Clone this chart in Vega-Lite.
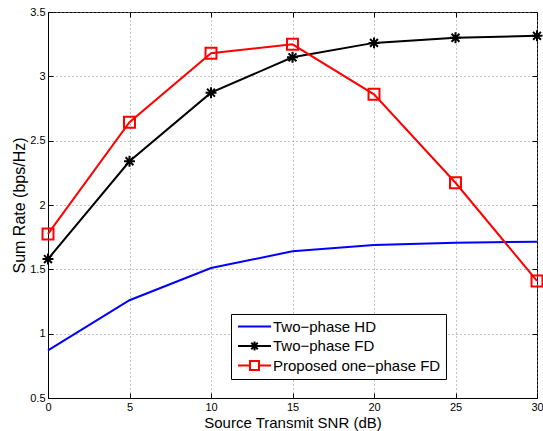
{
  "$schema": "https://vega.github.io/schema/vega-lite/v6.json",
  "width": 489,
  "height": 386,
  "autosize": {"type": "none"},
  "padding": {"left": 48, "top": 12, "right": 6, "bottom": 33},
  "background": "white",
  "config": {
    "font": "Liberation Sans",
    "view": {"stroke": "black", "strokeWidth": 1},
    "axis": {
      "domainColor": "black",
      "tickColor": "black",
      "labelColor": "black",
      "titleColor": "black",
      "labelFont": "Liberation Sans",
      "titleFont": "Liberation Sans",
      "labelFontSize": 11,
      "titleFontSize": 15,
      "titleFontWeight": "normal",
      "labelFlush": false,
      "labelOverlap": false
    },
    "legend": {
      "labelFont": "Liberation Sans",
      "labelFontSize": 15,
      "labelColor": "black",
      "labelLimit": 0
    }
  },
  "data": {
    "values": [
      {"snr": 0, "series": "Two−phase HD", "rate": 0.87},
      {"snr": 5, "series": "Two−phase HD", "rate": 1.26},
      {"snr": 10, "series": "Two−phase HD", "rate": 1.51},
      {"snr": 15, "series": "Two−phase HD", "rate": 1.64},
      {"snr": 20, "series": "Two−phase HD", "rate": 1.69},
      {"snr": 25, "series": "Two−phase HD", "rate": 1.707},
      {"snr": 30, "series": "Two−phase HD", "rate": 1.715},
      {"snr": 0, "series": "Two−phase FD", "rate": 1.58},
      {"snr": 5, "series": "Two−phase FD", "rate": 2.34},
      {"snr": 10, "series": "Two−phase FD", "rate": 2.873},
      {"snr": 15, "series": "Two−phase FD", "rate": 3.148},
      {"snr": 20, "series": "Two−phase FD", "rate": 3.26},
      {"snr": 25, "series": "Two−phase FD", "rate": 3.30},
      {"snr": 30, "series": "Two−phase FD", "rate": 3.315},
      {"snr": 0, "series": "Proposed one−phase FD", "rate": 1.775},
      {"snr": 5, "series": "Proposed one−phase FD", "rate": 2.643},
      {"snr": 10, "series": "Proposed one−phase FD", "rate": 3.18},
      {"snr": 15, "series": "Proposed one−phase FD", "rate": 3.249},
      {"snr": 20, "series": "Proposed one−phase FD", "rate": 2.86},
      {"snr": 25, "series": "Proposed one−phase FD", "rate": 2.173},
      {"snr": 30, "series": "Proposed one−phase FD", "rate": 1.41}
    ]
  },
  "layer": [
    {
      "mark": {"type": "line", "strokeWidth": 2, "clip": false},
      "encoding": {
        "x": {
          "field": "snr", "type": "quantitative",
          "scale": {"domain": [0, 30], "nice": false, "zero": false},
          "axis": {
            "title": "Source Transmit SNR (dB)",
            "values": [0, 5, 10, 15, 20, 25, 30],
            "grid": true, "gridColor": "#888", "gridDash": [1, 3], "gridWidth": 1,
            "tickSize": -5, "labelPadding": 8, "titlePadding": 3
          }
        },
        "y": {
          "field": "rate", "type": "quantitative",
          "scale": {"domain": [0.5, 3.5], "nice": false, "zero": false},
          "axis": {
            "title": "Sum Rate (bps/Hz)",
            "titleFontSize": 16,
            "values": [0.5, 1, 1.5, 2, 2.5, 3, 3.5],
            "labelExpr": "'' + datum.value",
            "grid": true, "gridColor": "#888", "gridDash": [1, 3], "gridWidth": 1,
            "tickSize": -5, "labelPadding": 8, "titlePadding": 2
          }
        },
        "color": {
          "field": "series", "type": "nominal",
          "scale": {"domain": ["Two−phase HD", "Two−phase FD", "Proposed one−phase FD"], "range": ["#0000ff", "#000000", "#ff0000"]},
          "legend": null
        }
      }
    },
    {
      "transform": [{"filter": "datum.series != 'Two−phase HD'"}],
      "mark": {"type": "point", "filled": false, "strokeWidth": 2, "size": 120, "opacity": 1, "clip": false},
      "encoding": {
        "x": {
          "field": "snr", "type": "quantitative",
          "scale": {"domain": [0, 30], "nice": false, "zero": false},
          "axis": {"orient": "top", "values": [0, 5, 10, 15, 20, 25, 30], "labels": false, "domain": false, "grid": false, "tickSize": -5, "title": null}
        },
        "y": {
          "field": "rate", "type": "quantitative",
          "scale": {"domain": [0.5, 3.5], "nice": false, "zero": false},
          "axis": {"orient": "right", "values": [0.5, 1, 1.5, 2, 2.5, 3, 3.5], "labels": false, "domain": false, "grid": false, "tickSize": -5, "title": null}
        },
        "color": {
          "field": "series", "type": "nominal",
          "scale": {"domain": ["Two−phase HD", "Two−phase FD", "Proposed one−phase FD"], "range": ["#0000ff", "#000000", "#ff0000"]},
          "legend": null
        },
        "shape": {
          "field": "series", "type": "nominal",
          "scale": {"domain": ["Two−phase FD", "Proposed one−phase FD"], "range": ["M-1,0H1M0,-1V1M-0.72,-0.72L0.72,0.72M-0.72,0.72L0.72,-0.72", "square"]},
          "legend": null
        }
      }
    },
    {
      "transform": [{"filter": "false"}],
      "mark": {"type": "point", "filled": false, "strokeWidth": 2, "opacity": 1},
      "encoding": {
        "color": {
          "field": "series", "type": "nominal",
          "scale": {"domain": ["Two−phase HD", "Two−phase FD", "Proposed one−phase FD"], "range": ["#0000ff", "#000000", "#ff0000"]},
          "legend": {
            "title": null, "orient": "none", "legendX": 183, "legendY": 302,
            "strokeColor": "black", "fillColor": "white", "padding": 5,
            "cornerRadius": 0, "rowPadding": 2.5, "symbolSize": 100,
            "symbolOffset": 11, "labelOffset": 11, "symbolStrokeWidth": 2, "labelLimit": 0
          }
        },
        "shape": {
          "field": "series", "type": "nominal",
          "scale": {"domain": ["Two−phase HD", "Two−phase FD", "Proposed one−phase FD"], "range": ["M-3.3,0H3.3", "M-3.3,0H3.3M0,-0.9V0.9M-0.65,-0.65L0.65,0.65M-0.65,0.65L0.65,-0.65", "M-3.3,0H-0.9M0.9,0H3.3M-0.9,-0.9H0.9V0.9H-0.9Z"]},
          "legend": {
            "title": null, "orient": "none", "legendX": 183, "legendY": 302,
            "strokeColor": "black", "fillColor": "white", "padding": 5,
            "cornerRadius": 0, "rowPadding": 2.5, "symbolSize": 100,
            "symbolOffset": 11, "labelOffset": 11, "symbolStrokeWidth": 2, "labelLimit": 0
          }
        }
      }
    }
  ],
  "resolve": {
    "scale": {"color": "independent", "shape": "independent"},
    "axis": {"x": "independent", "y": "independent"}
  }
}
